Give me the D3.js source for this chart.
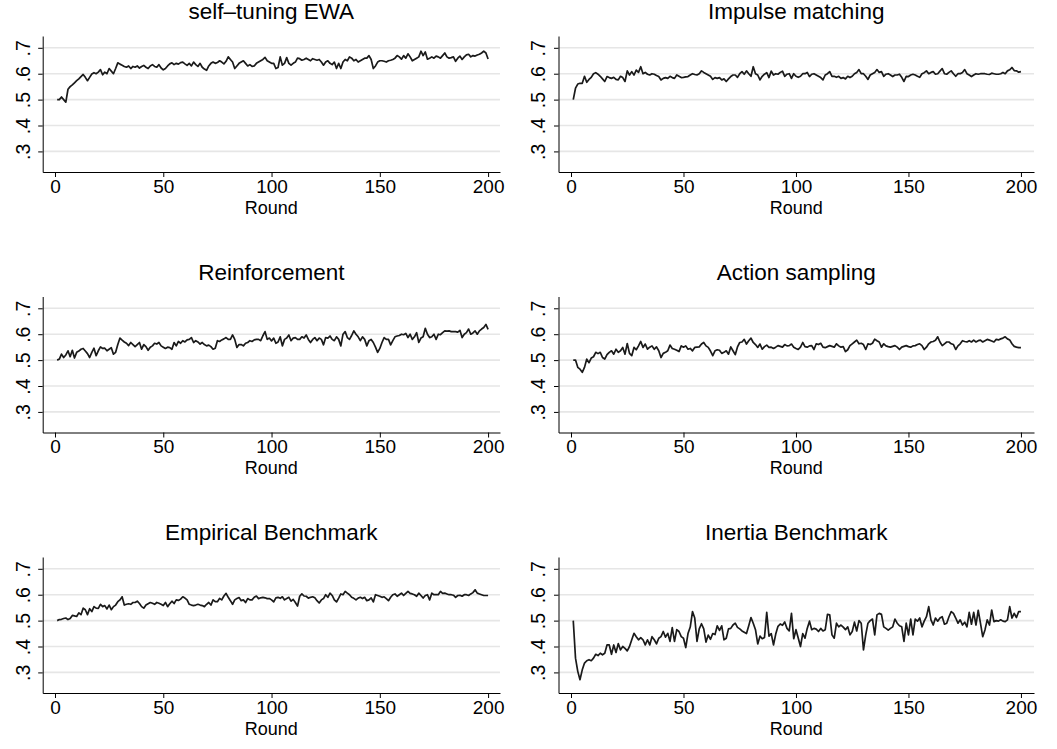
<!DOCTYPE html>
<html>
<head>
<meta charset="utf-8">
<script src="https://cdn.jsdelivr.net/npm/d3@7/dist/d3.min.js"></script>
<style>
  html, body { margin: 0; padding: 0; background: #fff; }
  svg { display: block; font-family: "Liberation Sans", Arial, Helvetica, sans-serif; }
</style>
</head>
<body>
<svg id="chart" width="1057" height="749"></svg>
<script>
// ---------------- data ----------------
const titles = ["self\u2013tuning EWA", "Impulse matching", "Reinforcement", "Action sampling", "Empirical Benchmark", "Inertia Benchmark"];
const xTicks = [0, 50, 100, 150, 200];
const yTicks = [0.3, 0.4, 0.5, 0.6, 0.7];
const xTitle = "Round";

const ewa = [
.50,.50,.51,.50,.49,.54,.55,.557,.565,.573,
.58,.589,.597,.586,.573,.586,.599,.604,.60,.606,
.616,.596,.606,.60,.62,.61,.60,.62,.642,.637,
.633,.628,.625,.63,.62,.628,.625,.63,.622,.628,
.632,.625,.62,.63,.635,.628,.625,.635,.622,.615,
.62,.63,.638,.642,.635,.64,.637,.643,.645,.638,
.632,.64,.63,.645,.635,.628,.64,.625,.618,.613,
.63,.64,.645,.64,.643,.65,.645,.638,.648,.665,
.655,.645,.62,.63,.64,.645,.65,.64,.63,.635,
.628,.63,.64,.645,.65,.655,.663,.65,.645,.64,
.64,.62,.624,.665,.633,.64,.662,.64,.633,.64,
.645,.66,.658,.652,.655,.66,.655,.65,.658,.655,
.652,.655,.645,.633,.645,.65,.64,.635,.645,.62,
.64,.62,.645,.655,.65,.665,.66,.65,.655,.645,
.65,.655,.66,.66,.67,.655,.62,.63,.645,.65,
.65,.648,.645,.65,.652,.655,.66,.67,.665,.656,
.67,.66,.677,.665,.65,.655,.66,.665,.687,.67,
.684,.656,.66,.665,.66,.668,.665,.66,.67,.68,
.665,.66,.662,.665,.648,.66,.668,.655,.665,.673,
.675,.665,.67,.668,.672,.675,.68,.687,.68,.657];

const impulse = [
.50,.544,.56,.563,.563,.59,.567,.578,.586,.60,
.604,.598,.59,.58,.57,.589,.585,.582,.586,.578,
.576,.59,.585,.57,.611,.595,.608,.595,.614,.605,
.627,.60,.605,.598,.595,.60,.598,.593,.589,.576,
.582,.585,.582,.59,.585,.582,.595,.59,.585,.586,
.588,.589,.595,.60,.597,.595,.60,.611,.605,.60,
.595,.59,.578,.585,.582,.585,.576,.58,.57,.58,
.589,.595,.595,.586,.60,.608,.598,.611,.60,.59,
.627,.60,.595,.576,.59,.598,.604,.585,.61,.595,
.60,.598,.605,.61,.59,.598,.60,.582,.60,.59,
.586,.59,.60,.60,.605,.589,.598,.60,.595,.59,
.585,.576,.595,.60,.608,.59,.59,.586,.59,.582,
.585,.58,.59,.585,.59,.60,.605,.616,.60,.60,
.59,.578,.595,.60,.605,.616,.605,.608,.59,.598,
.60,.595,.589,.595,.595,.598,.586,.57,.59,.589,
.595,.598,.595,.59,.586,.60,.604,.611,.60,.605,
.608,.598,.60,.61,.62,.60,.598,.605,.611,.60,
.59,.60,.60,.605,.616,.60,.595,.589,.595,.60,
.598,.60,.60,.60,.598,.597,.602,.60,.598,.598,
.60,.605,.60,.611,.615,.624,.612,.611,.606,.608];

const reinforcement = [
.50,.504,.523,.51,.52,.536,.513,.538,.508,.53,
.535,.542,.545,.535,.525,.51,.53,.546,.517,.536,
.551,.545,.546,.536,.542,.548,.523,.53,.56,.585,
.577,.57,.565,.556,.568,.56,.552,.56,.568,.542,
.56,.552,.538,.55,.555,.565,.562,.568,.555,.55,
.545,.55,.548,.542,.568,.555,.572,.565,.575,.57,
.578,.58,.587,.568,.575,.57,.562,.568,.56,.555,
.558,.552,.542,.546,.575,.572,.578,.582,.587,.58,
.58,.597,.58,.549,.56,.56,.555,.565,.568,.575,
.572,.578,.58,.58,.575,.594,.61,.58,.585,.574,
.585,.565,.57,.59,.555,.58,.585,.597,.575,.585,
.587,.58,.58,.59,.585,.597,.58,.568,.58,.587,
.575,.585,.58,.559,.587,.585,.593,.58,.575,.59,
.58,.555,.60,.61,.587,.58,.595,.613,.60,.59,
.575,.59,.58,.555,.575,.58,.568,.55,.53,.545,
.568,.587,.58,.58,.559,.575,.59,.593,.595,.60,
.598,.603,.587,.60,.58,.59,.606,.568,.585,.59,
.623,.60,.587,.59,.60,.58,.60,.598,.606,.613,
.612,.613,.61,.61,.61,.608,.615,.587,.60,.606,
.62,.60,.605,.613,.60,.613,.62,.626,.638,.619];

const actionSampling = [
.50,.50,.472,.465,.453,.472,.504,.49,.508,.513,
.53,.525,.53,.51,.504,.521,.53,.536,.523,.542,
.53,.536,.549,.523,.564,.526,.517,.549,.54,.555,
.572,.549,.562,.542,.55,.555,.542,.551,.536,.51,
.526,.53,.536,.558,.545,.542,.538,.533,.555,.55,
.555,.542,.545,.536,.549,.55,.551,.562,.568,.555,
.549,.535,.517,.536,.54,.538,.526,.53,.536,.523,
.551,.536,.521,.551,.568,.57,.58,.562,.575,.585,
.568,.56,.549,.562,.542,.552,.558,.549,.55,.545,
.55,.556,.553,.55,.56,.555,.556,.562,.55,.545,
.541,.55,.568,.552,.55,.555,.556,.541,.563,.56,
.565,.55,.548,.552,.556,.553,.55,.563,.555,.55,
.552,.533,.54,.556,.563,.57,.577,.563,.565,.56,
.541,.563,.56,.565,.581,.575,.57,.55,.563,.555,
.552,.55,.553,.556,.55,.541,.55,.553,.556,.552,
.55,.555,.556,.56,.563,.556,.541,.55,.563,.57,
.572,.577,.59,.57,.556,.563,.57,.57,.563,.56,
.541,.555,.563,.575,.572,.57,.575,.57,.577,.57,
.575,.577,.57,.575,.58,.577,.574,.57,.58,.578,
.582,.585,.59,.582,.578,.563,.553,.55,.548,.548];

const empirical = [
.50,.504,.505,.508,.51,.504,.508,.52,.518,.516,
.53,.523,.548,.542,.523,.546,.535,.554,.548,.547,
.563,.554,.558,.545,.56,.542,.554,.56,.573,.58,
.592,.56,.563,.565,.563,.57,.57,.575,.566,.554,
.548,.56,.565,.57,.567,.563,.57,.567,.563,.558,
.57,.554,.565,.575,.566,.58,.578,.583,.592,.587,
.58,.563,.56,.558,.56,.563,.56,.558,.554,.563,
.57,.56,.58,.573,.573,.586,.58,.595,.605,.59,
.577,.563,.58,.585,.589,.577,.58,.57,.585,.58,
.58,.59,.595,.585,.588,.59,.588,.585,.585,.58,
.572,.588,.59,.586,.592,.58,.585,.59,.575,.582,
.57,.556,.594,.603,.595,.594,.587,.59,.592,.588,
.577,.568,.58,.585,.60,.59,.606,.597,.58,.572,
.587,.603,.60,.613,.606,.60,.59,.586,.58,.587,
.59,.585,.59,.577,.58,.588,.572,.60,.597,.594,
.59,.592,.585,.577,.59,.60,.603,.594,.60,.606,
.597,.605,.613,.605,.603,.60,.594,.606,.597,.587,
.597,.60,.58,.606,.60,.60,.60,.613,.605,.606,
.603,.60,.60,.598,.59,.597,.598,.594,.60,.60,
.597,.603,.608,.619,.606,.603,.60,.597,.597,.597];

const inertia = [
.50,.355,.304,.272,.31,.336,.345,.349,.345,.355,
.37,.365,.374,.368,.374,.406,.406,.37,.406,.377,
.411,.387,.40,.393,.383,.40,.426,.451,.438,.426,
.434,.426,.406,.426,.406,.438,.426,.41,.432,.438,
.458,.436,.451,.42,.473,.42,.465,.458,.438,.432,
.396,.45,.475,.535,.51,.42,.468,.488,.468,.417,
.444,.428,.45,.446,.48,.462,.48,.426,.432,.468,
.47,.483,.49,.474,.468,.46,.455,.45,.48,.512,
.49,.465,.41,.44,.43,.435,.532,.44,.45,.406,
.448,.478,.487,.482,.495,.47,.46,.528,.43,.465,
.433,.40,.45,.432,.47,.498,.465,.47,.467,.458,
.47,.46,.465,.524,.522,.445,.432,.49,.476,.483,
.475,.465,.476,.445,.458,.494,.46,.50,.49,.387,
.445,.49,.50,.506,.445,.522,.528,.524,.476,.47,
.463,.47,.476,.506,.49,.48,.476,.42,.49,.445,
.506,.445,.506,.498,.51,.476,.498,.515,.554,.503,
.483,.51,.498,.51,.515,.486,.49,.515,.535,.528,
.51,.49,.503,.483,.494,.476,.532,.486,.532,.483,
.54,.49,.438,.464,.503,.483,.541,.496,.50,.498,
.503,.498,.496,.503,.554,.51,.528,.512,.535,.535];

const seriesList = [ewa, impulse, reinforcement, actionSampling, empirical, inertia];

// ---------------- layout ----------------
const svg = d3.select("#chart");
svg.append("rect").attr("width", 1057).attr("height", 749).attr("fill", "#fff");

const plotH = 136;
const cols = [
  { left: 42.7, x: d3.scaleLinear().domain([-5.68, 205.5]).range([0, 457.3]) },
  { left: 558.5, x: d3.scaleLinear().domain([-5.56, 205.8]).range([0, 475.5]) }
];
const rowY = [36, 296.5, 557];

const y = d3.scaleLinear().domain([0.2205, 0.7456]).range([plotH, 0]);
const fmtY = d => d3.format(".1f")(d).replace(/^0/, "");

seriesList.forEach((vals, k) => {
  const col = k % 2, row = Math.floor(k / 2);
  const x = cols[col].x;
  const plotW = x.range()[1];
  const g = svg.append("g").attr("transform", `translate(${cols[col].left},${rowY[row]})`);

  // gridlines
  g.append("g").selectAll("line").data(yTicks).join("line")
    .attr("x1", 0).attr("x2", plotW)
    .attr("y1", d => y(d)).attr("y2", d => y(d))
    .attr("stroke", "#e6e6e6").attr("stroke-width", 1.6);

  // x axis
  const xa = g.append("g").attr("transform", `translate(0,${plotH})`)
    .call(d3.axisBottom(x).tickValues(xTicks).tickSize(5).tickSizeOuter(0).tickPadding(2.5));
  xa.selectAll("text").attr("font-size", 19).attr("fill", "#000")
    .attr("font-family", "Liberation Sans, Arial, sans-serif");
  xa.selectAll("line, path").attr("stroke", "#000").attr("stroke-width", 1);

  // y axis
  const ya = g.append("g")
    .call(d3.axisLeft(y).tickValues(yTicks).tickFormat(fmtY).tickSize(4.5).tickSizeOuter(0));
  ya.selectAll("line, path").attr("stroke", "#000").attr("stroke-width", 1);
  ya.selectAll(".tick text")
    .attr("x", 0).attr("dy", 0)
    .attr("text-anchor", "middle")
    .attr("transform", "translate(-13.2,0) rotate(-90)")
    .attr("font-size", 19.5).attr("fill", "#000")
    .attr("font-family", "Liberation Sans, Arial, sans-serif");

  // data line
  const line = d3.line()
    .x((d, i) => x(i + 1))
    .y(d => y(d));
  g.append("path").datum(vals)
    .attr("d", line)
    .attr("fill", "none")
    .attr("stroke", "#1a1a1a")
    .attr("stroke-width", 1.7)
    .attr("stroke-linejoin", "round");

  // title
  g.append("text")
    .attr("x", plotW / 2).attr("y", -17)
    .attr("text-anchor", "middle")
    .attr("font-size", 22.5).attr("fill", "#000")
    .text(titles[k]);

  // x title
  g.append("text")
    .attr("x", plotW / 2).attr("y", 177.8)
    .attr("text-anchor", "middle")
    .attr("font-size", 18).attr("fill", "#000")
    .text(xTitle);
});
</script>
</body>
</html>
